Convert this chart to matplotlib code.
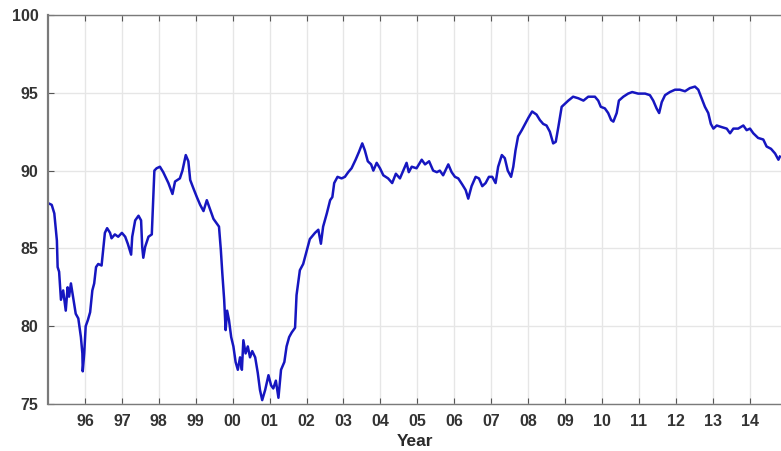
import matplotlib
matplotlib.use("Agg")
import matplotlib.pyplot as plt

# weekly index level, read as (decimal year, value)
years = [
    1995.01, 1995.10, 1995.17, 1995.24, 1995.26, 1995.30, 1995.35, 1995.41, 1995.48, 1995.53,
    1995.57, 1995.62, 1995.69, 1995.75, 1995.82, 1995.89, 1995.93, 1995.94, 1995.98, 1996.02,
    1996.08, 1996.14, 1996.20, 1996.25, 1996.30, 1996.36, 1996.45, 1996.54, 1996.60, 1996.68,
    1996.72, 1996.81, 1996.90, 1997.00, 1997.09, 1997.16, 1997.25, 1997.28, 1997.36, 1997.45,
    1997.52, 1997.55, 1997.58, 1997.63, 1997.72, 1997.81, 1997.84, 1997.88, 1997.94, 1998.03,
    1998.12, 1998.26, 1998.37, 1998.44, 1998.57, 1998.64, 1998.73, 1998.80, 1998.85, 1998.93,
    1999.03, 1999.12, 1999.21, 1999.30, 1999.39, 1999.48, 1999.57, 1999.63, 1999.68, 1999.72,
    1999.77, 1999.81, 1999.85, 1999.90, 1999.96, 2000.02, 2000.08, 2000.14, 2000.20, 2000.25,
    2000.29, 2000.35, 2000.41, 2000.47, 2000.53, 2000.61, 2000.68, 2000.74, 2000.80, 2000.88,
    2000.97, 2001.04, 2001.10, 2001.17, 2001.24, 2001.31, 2001.40, 2001.46, 2001.53, 2001.60,
    2001.69, 2001.73, 2001.82, 2001.91, 2002.01, 2002.09, 2002.23, 2002.32, 2002.39, 2002.45,
    2002.55, 2002.64, 2002.70, 2002.75, 2002.84, 2002.95, 2003.04, 2003.13, 2003.22, 2003.33,
    2003.42, 2003.51, 2003.58, 2003.66, 2003.75, 2003.81, 2003.90, 2003.99, 2004.08, 2004.21,
    2004.32, 2004.42, 2004.53, 2004.62, 2004.71, 2004.77, 2004.85, 2004.98, 2005.12, 2005.21,
    2005.32, 2005.43, 2005.53, 2005.61, 2005.70, 2005.84, 2005.93, 2006.02, 2006.11, 2006.22,
    2006.31, 2006.38, 2006.47, 2006.58, 2006.67, 2006.76, 2006.85, 2006.94, 2007.03, 2007.12,
    2007.19, 2007.29, 2007.37, 2007.45, 2007.54, 2007.60, 2007.66, 2007.73, 2007.83, 2007.92,
    2008.01, 2008.11, 2008.23, 2008.32, 2008.41, 2008.50, 2008.59, 2008.68, 2008.75, 2008.82,
    2008.91, 2009.00, 2009.09, 2009.22, 2009.36, 2009.50, 2009.63, 2009.81, 2009.90, 2009.97,
    2010.08, 2010.17, 2010.25, 2010.31, 2010.40, 2010.46, 2010.58, 2010.71, 2010.82, 2010.98,
    2011.17, 2011.30, 2011.39, 2011.48, 2011.55, 2011.62, 2011.71, 2011.84, 2011.98, 2012.11,
    2012.25, 2012.38, 2012.52, 2012.61, 2012.70, 2012.79, 2012.88, 2012.95, 2013.02, 2013.11,
    2013.24, 2013.38, 2013.47, 2013.56, 2013.69, 2013.83, 2013.92, 2014.01, 2014.10, 2014.23,
    2014.37, 2014.46, 2014.58, 2014.69, 2014.78, 2014.82,
]
values = [
    87.9, 87.8, 87.25, 85.5, 83.8, 83.5, 81.7, 82.3, 81.0, 82.5,
    81.9, 82.75, 81.7, 80.8, 80.5, 79.3, 78.25, 77.1, 78.25, 80.0,
    80.4, 80.9, 82.3, 82.75, 83.8, 84.0, 83.9, 86.0, 86.3, 86.0,
    85.65, 85.9, 85.75, 86.0, 85.75, 85.3, 84.6, 85.75, 86.8, 87.1,
    86.8, 85.1, 84.4, 85.1, 85.75, 85.9, 87.7, 90.0, 90.15, 90.25,
    89.9, 89.2, 88.5, 89.3, 89.5, 90.0, 91.0, 90.6, 89.4, 88.9,
    88.3, 87.8, 87.4, 88.1, 87.5, 86.9, 86.6, 86.4, 84.9, 83.4,
    81.7, 79.75, 81.0, 80.4, 79.3, 78.7, 77.7, 77.2, 78.0, 77.2,
    79.1, 78.25, 78.7, 78.0, 78.4, 78.0, 77.0, 75.9, 75.25, 75.9,
    76.85, 76.2, 76.0, 76.5, 75.4, 77.2, 77.7, 78.7, 79.3, 79.6,
    79.9, 82.0, 83.6, 84.0, 84.9, 85.6, 86.0, 86.2, 85.3, 86.4,
    87.25, 88.1, 88.3, 89.2, 89.6, 89.5, 89.6, 89.9, 90.15, 90.7,
    91.2, 91.75, 91.3, 90.6, 90.4, 90.0, 90.5, 90.15, 89.7, 89.5,
    89.2, 89.8, 89.5, 90.0, 90.5, 89.9, 90.25, 90.15, 90.7, 90.4,
    90.6, 90.0, 89.9, 90.0, 89.7, 90.4, 89.9, 89.6, 89.5, 89.1,
    88.75, 88.2, 89.0, 89.6, 89.5, 89.0, 89.2, 89.6, 89.6, 89.2,
    90.25, 91.0, 90.8, 90.0, 89.6, 90.25, 91.3, 92.2, 92.6, 93.0,
    93.4, 93.8, 93.6, 93.25, 93.0, 92.9, 92.5, 91.75, 91.85, 92.8,
    94.1, 94.3, 94.5, 94.75, 94.65, 94.5, 94.75, 94.75, 94.5, 94.1,
    94.0, 93.7, 93.25, 93.15, 93.7, 94.5, 94.75, 94.95, 95.05, 94.95,
    94.95, 94.85, 94.5, 94.0, 93.7, 94.4, 94.85, 95.05, 95.2, 95.2,
    95.1, 95.3, 95.4, 95.2, 94.65, 94.1, 93.7, 93.0, 92.7, 92.9,
    92.8, 92.7, 92.4, 92.7, 92.7, 92.9, 92.6, 92.7, 92.4, 92.1,
    92.0, 91.55, 91.4, 91.1, 90.7, 90.9,
]

tick_years = list(range(1996, 2015))
tick_labels = ["%02d" % (y % 100) for y in tick_years]
y_ticks = [75, 80, 85, 90, 95, 100]

fig = plt.figure(figsize=(7.81, 4.51), dpi=100)
ax = fig.add_axes([0.0615, 0.1042, 0.9385, 0.8625])

ax.plot(years, values, color="#1616c0", linewidth=1.8)

ax.set_xlim(1995.0, 2014.85)
ax.set_ylim(75, 100)
ax.set_xticks(tick_years)
ax.set_xticklabels(tick_labels)
ax.set_yticks(y_ticks)

for lbl in ax.get_xticklabels() + ax.get_yticklabels():
    lbl.set_fontfamily("Liberation Sans")
    lbl.set_fontweight("bold")
    lbl.set_fontsize(11.5)
    lbl.set_color("#333333")

ax.set_xlabel("Year", fontfamily="Liberation Sans", fontweight="bold",
              fontsize=12.5, color="#2a2a2a", labelpad=4)

ax.grid(True, color="#e6e6e6", linewidth=1.0)
ax.tick_params(direction="in", length=4, width=0.8, color="#555555",
               top=True, right=False, pad=7)
for side in ("left", "bottom", "top"):
    ax.spines[side].set_color("#7a7a7a")
    ax.spines[side].set_linewidth(1.0)
ax.spines["left"].set_linewidth(1.6)
ax.spines["right"].set_visible(False)

fig.savefig("out.png", dpi=100)
